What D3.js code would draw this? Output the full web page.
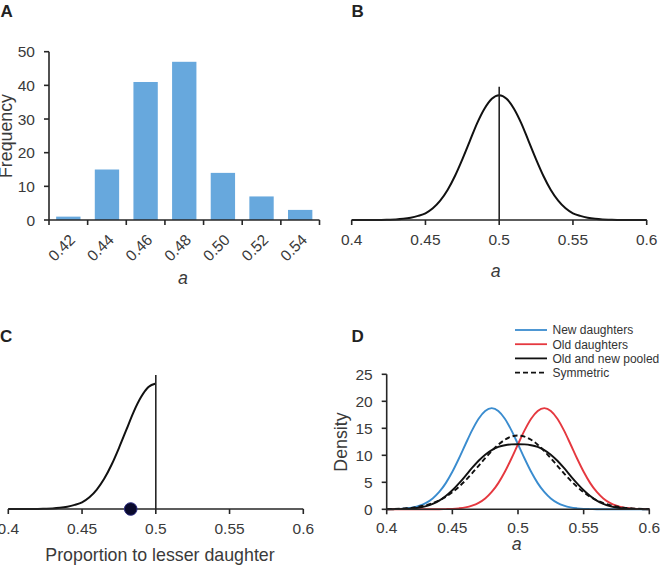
<!DOCTYPE html>
<html>
<head>
<meta charset="utf-8">
<script src="https://cdn.jsdelivr.net/npm/d3@7"></script>
<style>
    body { margin: 0; background: #fff; }
    svg { display: block; font-family: "Liberation Sans", Arial, sans-serif; }
    .tick-label { fill: #3a3a3a; font-size: 15.5px; }
    .axis-title { fill: #3a3a3a; font-size: 17.8px; }
    .panel-letter { fill: #222; font-size: 17px; font-weight: bold; }
    .axis-line { stroke: #262626; stroke-width: 1.6; fill: none; }
</style>
</head>
<body>
<svg id="svg" width="669" height="565"></svg>
<script>
// ---- panel A: histogram ----
let histBins = ["0.42", "0.44", "0.46", "0.48", "0.50", "0.52", "0.54"];
let histFreq = [1, 15, 41, 47, 14, 7, 3];
let histYTicks = [0, 10, 20, 30, 40, 50];

// ---- shared x grid for the density curves ----
let aGrid = [0.400, 0.405, 0.410, 0.415, 0.420, 0.425, 0.430, 0.435, 0.440, 0.445,
             0.450, 0.455, 0.460, 0.465, 0.470, 0.475, 0.480, 0.485, 0.490, 0.495,
             0.500, 0.505, 0.510, 0.515, 0.520, 0.525, 0.530, 0.535, 0.540, 0.545,
             0.550, 0.555, 0.560, 0.565, 0.570, 0.575, 0.580, 0.585, 0.590, 0.595, 0.600];
let aTicks = [0.4, 0.45, 0.5, 0.55, 0.6];
let aTickLabels = ["0.4", "0.45", "0.5", "0.55", "0.6"];

// ---- panel B ----
let nullDensity = [0, 0.001, 0.002, 0.006, 0.016, 0.04, 0.08, 0.18, 0.35, 0.62,
                   1.0, 1.75, 2.9, 4.5, 6.6, 9.1, 11.8, 14.5, 16.7, 18.2,
                   18.73, 18.2, 16.7, 14.5, 11.8, 9.1, 6.6, 4.5, 2.9, 1.75,
                   1.0, 0.62, 0.35, 0.18, 0.08, 0.04, 0.016, 0.006, 0.002, 0.001, 0];

// ---- panel C ----
let lesserGrid = [0.400, 0.405, 0.410, 0.415, 0.420, 0.425, 0.430, 0.435, 0.440, 0.445,
                  0.450, 0.455, 0.460, 0.465, 0.470, 0.475, 0.480, 0.485, 0.490, 0.495, 0.500];
let lesserDensity = [0, 0.002, 0.004, 0.012, 0.032, 0.08, 0.16, 0.36, 0.7, 1.24,
                     2.0, 3.5, 5.8, 9.0, 13.2, 18.2, 23.6, 29.0, 33.4, 36.4, 37.46];
let observedLesser = 0.483;

// ---- panel D ----
let newDaughters = [0.016, 0.04, 0.08, 0.18, 0.35, 0.67, 1.19, 2.01, 3.21, 4.85,
                    6.95, 9.41, 12.05, 14.62, 16.78, 18.22, 18.73, 18.22, 16.78, 14.62,
                    12.05, 9.41, 6.95, 4.85, 3.21, 2.01, 1.19, 0.67, 0.35, 0.18,
                    0.08, 0.04, 0.016, 0.006, 0.002, 0.001, 0, 0, 0, 0, 0];
let oldDaughters = [0, 0, 0, 0, 0, 0.001, 0.002, 0.006, 0.016, 0.04,
                    0.08, 0.18, 0.35, 0.67, 1.19, 2.01, 3.21, 4.85, 6.95, 9.41,
                    12.05, 14.62, 16.78, 18.22, 18.73, 18.22, 16.78, 14.62, 12.05, 9.41,
                    6.95, 4.85, 3.21, 2.01, 1.19, 0.67, 0.35, 0.18, 0.08, 0.04, 0.016];
let pooled = [0.008, 0.02, 0.04, 0.09, 0.18, 0.34, 0.60, 1.01, 1.61, 2.45,
              3.52, 4.80, 6.20, 7.65, 8.99, 10.12, 10.97, 11.54, 11.87, 12.02,
              12.05, 12.02, 11.87, 11.54, 10.97, 10.12, 8.99, 7.65, 6.20, 4.80,
              3.52, 2.45, 1.61, 1.01, 0.60, 0.34, 0.18, 0.09, 0.04, 0.02, 0.008];
let symmetric = [0.04, 0.07, 0.12, 0.20, 0.32, 0.51, 0.77, 1.15, 1.65, 2.32,
                 3.15, 4.17, 5.35, 6.66, 8.06, 9.47, 10.80, 11.97, 12.88, 13.46,
                 13.66, 13.46, 12.88, 11.97, 10.80, 9.47, 8.06, 6.66, 5.35, 4.17,
                 3.15, 2.32, 1.65, 1.15, 0.77, 0.51, 0.32, 0.20, 0.12, 0.07, 0.04];
let densityTicks = [0, 5, 10, 15, 20, 25];
let legendNames = ["New daughters", "Old daughters", "Old and new pooled", "Symmetric"];
let legendColors = ["#3a8ccf", "#e5383f", "#111111", "#111111"];
let legendDash = [null, null, null, "5,3"];

let svg = d3.select("#svg");

function bottomAxis(g, scale, y, ticks, labels, labelY = 25) {
    const axis = g.append("g").attr("transform", `translate(0,${y})`);
    axis.append("line").attr("class", "axis-line")
        .attr("x1", scale.range()[0]).attr("x2", scale.range()[1]);
    ticks.forEach((t, i) => {
        axis.append("line").attr("class", "axis-line")
            .attr("x1", scale(t)).attr("x2", scale(t)).attr("y1", 0).attr("y2", 5);
        axis.append("text").attr("class", "tick-label")
            .attr("x", scale(t)).attr("y", labelY)
            .attr("text-anchor", "middle")
            .text(labels[i]);
    });
}

function leftAxis(g, scale, x, ticks) {
    const axis = g.append("g").attr("transform", `translate(${x},0)`);
    axis.append("line").attr("class", "axis-line")
        .attr("y1", scale.range()[0]).attr("y2", scale.range()[1]);
    ticks.forEach(t => {
        axis.append("line").attr("class", "axis-line")
            .attr("x1", -5).attr("x2", 0).attr("y1", scale(t)).attr("y2", scale(t));
        axis.append("text").attr("class", "tick-label")
            .attr("x", -14).attr("y", scale(t)).attr("dy", "0.36em")
            .attr("text-anchor", "end")
            .text(t);
    });
}

function drawPanelA() {
    const g = svg.append("g");
    const xIdx = d3.scaleLinear().domain([0, histBins.length]).range([49, 319.5]);
    const xBand = d3.scaleBand().domain(histBins).range([49, 319.5])
        .paddingInner(0.37).paddingOuter(0.185);
    const y = d3.scaleLinear().domain([0, 50]).range([220, 51.7]);

    g.selectAll(".bar").data(histFreq).enter().append("rect")
        .attr("class", "bar")
        .attr("x", (d, i) => xBand(histBins[i]))
        .attr("y", d => y(d))
        .attr("width", xBand.bandwidth())
        .attr("height", d => y(0) - y(d))
        .attr("fill", "#67a8dd");

    leftAxis(g, y, 49, histYTicks);

    const axis = g.append("g").attr("transform", "translate(0,220)");
    axis.append("line").attr("class", "axis-line").attr("x1", 49).attr("x2", 319.5);
    d3.range(histBins.length + 1).forEach(i => {
        axis.append("line").attr("class", "axis-line")
            .attr("x1", xIdx(i)).attr("x2", xIdx(i)).attr("y1", 0).attr("y2", 5);
    });
    histBins.forEach((b, i) => {
        const cx = xIdx(i + 0.5);
        axis.append("text").attr("class", "tick-label")
            .attr("text-anchor", "end")
            .attr("dy", "0.35em")
            .attr("transform", `translate(${cx + 4},${17}) rotate(-45)`)
            .text(b);
    });

    svg.append("text").attr("class", "axis-title")
        .attr("transform", "translate(12,136) rotate(-90)")
        .attr("text-anchor", "middle").text("Frequency");
    svg.append("text").attr("class", "axis-title")
        .attr("x", 183).attr("y", 284).attr("text-anchor", "middle")
        .style("font-style", "italic").text("a");
    svg.append("text").attr("class", "panel-letter").attr("x", 0.5).attr("y", 17).text("A");
}

function drawPanelB() {
    const g = svg.append("g");
    const x = d3.scaleLinear().domain([0.4, 0.6]).range([351.7, 646.7]);
    const y = d3.scaleLinear().domain([0, 20]).range([220, 86.7]);
    const line = d3.line().x((d, i) => x(aGrid[i])).y(d => y(d)).curve(d3.curveMonotoneX);

    g.append("path").datum(nullDensity).attr("d", line)
        .attr("fill", "none").attr("stroke", "#111").attr("stroke-width", 2);
    g.append("line").attr("class", "axis-line")
        .attr("x1", x(0.5)).attr("x2", x(0.5)).attr("y1", y(0)).attr("y2", y(20));
    bottomAxis(g, x, 220, aTicks, aTickLabels);

    svg.append("text").attr("class", "axis-title")
        .attr("x", 495.7).attr("y", 277).attr("text-anchor", "middle")
        .style("font-style", "italic").text("a");
    svg.append("text").attr("class", "panel-letter").attr("x", 351.5).attr("y", 16.5).text("B");
}

function drawPanelC() {
    const g = svg.append("g");
    const x = d3.scaleLinear().domain([0.4, 0.6]).range([8.3, 303.3]);
    const y = d3.scaleLinear().domain([0, 40]).range([509, 375]);
    const line = d3.line().x((d, i) => x(lesserGrid[i])).y(d => y(d)).curve(d3.curveMonotoneX);

    g.append("path").datum(lesserDensity).attr("d", line)
        .attr("fill", "none").attr("stroke", "#111").attr("stroke-width", 2);
    g.append("line").attr("class", "axis-line")
        .attr("x1", x(0.5)).attr("x2", x(0.5)).attr("y1", y(0)).attr("y2", y(40));
    bottomAxis(g, x, 509, aTicks, aTickLabels);

    g.append("circle")
        .attr("cx", x(observedLesser)).attr("cy", y(0)).attr("r", 6.3)
        .attr("fill", "#0a0a2c").attr("stroke", "#2a2a80").attr("stroke-width", 1);

    svg.append("text").attr("class", "axis-title")
        .attr("x", 160).attr("y", 561).attr("text-anchor", "middle")
        .text("Proportion to lesser daughter");
    svg.append("text").attr("class", "panel-letter").attr("x", 0).attr("y", 342).text("C");
}

function drawPanelD() {
    const g = svg.append("g");
    const x = d3.scaleLinear().domain([0.4, 0.6]).range([386.7, 649.3]);
    const y = d3.scaleLinear().domain([0, 25]).range([509.3, 374.3]);
    const line = d3.line().x((d, i) => x(aGrid[i])).y(d => y(d)).curve(d3.curveMonotoneX);

    const series = [newDaughters, oldDaughters, pooled, symmetric];
    series.forEach((s, i) => {
        g.append("path").datum(s).attr("d", line)
            .attr("fill", "none")
            .attr("stroke", legendColors[i])
            .attr("stroke-width", 1.9)
            .attr("stroke-dasharray", legendDash[i]);
    });

    leftAxis(g, y, 386.7, densityTicks);
    bottomAxis(g, x, 509.3, aTicks, aTickLabels, 24);

    const legend = svg.append("g").attr("transform", "translate(515,330)");
    legendNames.forEach((name, i) => {
        const row = legend.append("g").attr("transform", `translate(0,${i * 14.2})`);
        row.append("line").attr("x1", 0).attr("x2", 32)
            .attr("stroke", legendColors[i]).attr("stroke-width", 1.8)
            .attr("stroke-dasharray", legendDash[i]);
        row.append("text").attr("x", 37.5).attr("y", 4.3)
            .style("font-size", "12px").style("fill", "#333").text(name);
    });

    svg.append("text").attr("class", "axis-title")
        .attr("transform", "translate(347,442) rotate(-90)")
        .attr("text-anchor", "middle").text("Density");
    svg.append("text").attr("class", "axis-title")
        .attr("x", 516.7).attr("y", 550).attr("text-anchor", "middle")
        .style("font-style", "italic").text("a");
    svg.append("text").attr("class", "panel-letter").attr("x", 351.5).attr("y", 342).text("D");
}

function initialise() {
    drawPanelA();
    drawPanelB();
    drawPanelC();
    drawPanelD();
}

initialise();
</script>
</body>
</html>
